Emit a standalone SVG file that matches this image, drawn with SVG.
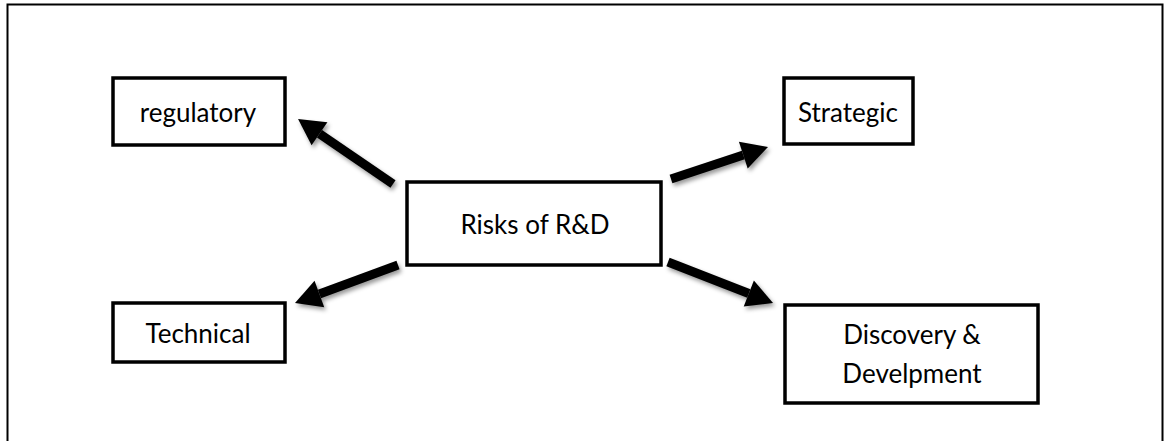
<svg xmlns="http://www.w3.org/2000/svg" width="1166" height="441" viewBox="0 0 1166 441">
  <style>
    .box { fill: #ffffff; stroke: #000000; stroke-width: 3.5; }
    .label { font-family: Lato, "Open Sans", sans-serif; font-size: 26px; fill: #000000; text-anchor: middle; }
    .link { stroke: #000000; stroke-width: 9; fill: none; marker-end: url(#head); }
  </style>
  <defs>
    <marker id="head" markerUnits="userSpaceOnUse" markerWidth="26" markerHeight="28" viewBox="0 -14 26 28" refX="0" refY="0" orient="auto" overflow="visible">
      <path d="M0,-14 L26,0 L0,14 z" fill="#000000"/>
    </marker>
    <filter id="shadow" x="-20%" y="-20%" width="140%" height="140%">
      <feDropShadow dx="2" dy="3" stdDeviation="2" flood-color="#000000" flood-opacity="0.4"/>
    </filter>
  </defs>

  <rect width="1166" height="441" fill="#ffffff"/>
  <!-- outer frame -->
  <rect x="7.5" y="4.5" width="1155" height="460" fill="none" stroke="#000000" stroke-width="2"/>

  <g id="connectors" filter="url(#shadow)">
    <line class="link" x1="393" y1="184" x2="319.5" y2="133.7"/>
    <line class="link" x1="671" y1="179" x2="743.3" y2="155.1"/>
    <line class="link" x1="398" y1="265" x2="319.4" y2="294.0"/>
    <line class="link" x1="668" y1="262" x2="748.8" y2="293.5"/>
  </g>

  <g id="center">
    <rect class="box" x="407" y="182" width="254" height="83"/>
    <text class="label" x="535" y="234">Risks of R&amp;D</text>
  </g>
  <g id="regulatory">
    <rect class="box" x="113" y="78" width="172" height="67"/>
    <text class="label" x="198" y="122">regulatory</text>
  </g>
  <g id="strategic">
    <rect class="box" x="784" y="78" width="129" height="66"/>
    <text class="label" x="848" y="122">Strategic</text>
  </g>
  <g id="technical">
    <rect class="box" x="113" y="303" width="172" height="59"/>
    <text class="label" x="198" y="343">Technical</text>
  </g>
  <g id="discovery">
    <rect class="box" x="785" y="305" width="253" height="98"/>
    <text class="label" x="912" y="344">Discovery &amp;</text>
    <text class="label" x="912" y="383">Develpment</text>
  </g>
</svg>
